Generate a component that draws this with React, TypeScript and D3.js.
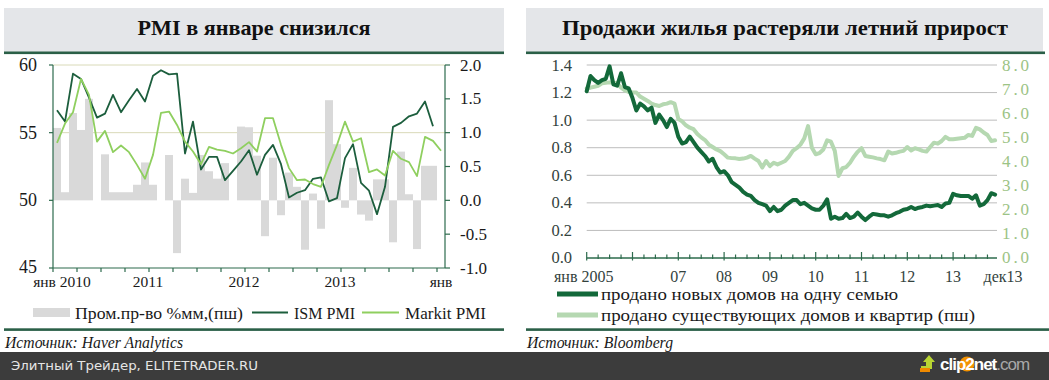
import React from 'react';
import * as d3 from 'd3';

// ---------- Left chart: PMI (Jan 2010 – Jan 2014, monthly) ----------
const pmiTickLabels = ['янв 2010', '2011', '2012', '2013', 'янв'];
const pmiTickMonths = [0, 12, 24, 36, 48];
const pmiLeftTicks = [45, 50, 55, 60];
const pmiRightTicks = [-1, -0.5, 0, 0.5, 1, 1.5, 2];
const pmiGrid = [55, 60];

const indProd = [
  1.07, 0.12, 1.29, 1.04, 1.5, 0, 0.68, 0.12, 0.12, 0.12, 0.23, 0.56,
  0.23, 0, 0.67, -0.78, 0.32, 0.11, 0.67, 0.43, 0.32, 0.55, 0, 1.09,
  1.08, 0.66, -0.53, 0.63, -0.22, 0.41, 0.2, -0.73, 0.1, -0.42, 1.48, 0.83,
  -0.11, 0.48, -0.21, -0.3, 0.31, 0.31, -0.62, 0.72, 0.09, -0.72, 0.51, 0.51,
];
const ismPmi = [
  56.66, 55.82, 59.36, 58.97, 57.59, 56.11, 56.41, 57.79, 56.51, 57.39, 58.23, 57.3,
  59.21, 59.61, 59.31, 59.36, 53.46, 55.82, 52.28, 53.21, 53.21, 51.49, 52.18, 52.87,
  53.7, 51.89, 53.36, 54.1, 52.67, 50.21, 50.56, 50.75, 51.59, 51.69, 49.92, 50.16,
  53.12, 54.15, 51.29, 50.71, 48.98, 51.0, 55.43, 55.72, 56.21, 56.41, 57.3, 55.48,
];
const markitPmi = [
  54.25, 55.67, 56.51, 58.97, 57.79, 54.34, 55.13, 53.56, 54.05, 53.56, 52.62, 51.59,
  53.36, 56.46, 56.56, 55.57, 54.34, 53.61, 52.67, 53.95, 53.75, 53.66, 53.46, 53.85,
  54.3, 53.61, 56.07, 56.07, 54.1, 52.38, 51.49, 51.54, 51.2, 51.0, 52.62, 54.1,
  55.82, 54.34, 54.59, 52.08, 52.28, 51.84, 53.66, 53.07, 52.82, 51.79, 54.69, 54.39,
  53.66,
];

// ---------- Right chart: home sales (Jan 2005 – Dec 2013, monthly) ----------
const homeTickLabels = ['янв 2005', '07', '08', '09', '10', '11', '12', '13', 'дек13'];
const homeTickMonths = [0, 24, 36, 48, 60, 72, 84, 96, 107];
const homeLeftTicks = [0, 0.2, 0.4, 0.6, 0.8, 1.0, 1.2, 1.4];
const homeRightTicks = [0, 1, 2, 3, 4, 5, 6, 7, 8];

const newHomeSales = [
  1.21, 1.32, 1.29, 1.27, 1.29, 1.3, 1.39, 1.26, 1.25, 1.34, 1.24, 1.23,
  1.16, 1.07, 1.12, 1.1, 1.07, 1.09, 0.98, 1.04, 1.0, 0.95, 1.01, 0.98,
  0.88, 0.83, 0.84, 0.88, 0.84, 0.8, 0.77, 0.74, 0.7, 0.72, 0.66, 0.62,
  0.63, 0.6, 0.55, 0.53, 0.51, 0.48, 0.46, 0.45, 0.42, 0.4, 0.39, 0.38,
  0.34, 0.37, 0.34, 0.35, 0.38, 0.4, 0.42, 0.42, 0.39, 0.4, 0.38, 0.36,
  0.35, 0.35, 0.38, 0.425, 0.285, 0.3, 0.285, 0.29, 0.32, 0.29, 0.3, 0.33,
  0.3, 0.275, 0.3, 0.32, 0.315, 0.31, 0.31, 0.3, 0.31, 0.325, 0.335, 0.35,
  0.355, 0.37, 0.355, 0.365, 0.37, 0.38, 0.375, 0.38, 0.385, 0.37, 0.395, 0.4,
  0.465, 0.455, 0.45, 0.45, 0.45, 0.43, 0.455, 0.38, 0.39, 0.42, 0.47, 0.46,
];
const existingHomeSales = [
  7.03, 7.06, 7.1, 7.14, 7.24, 7.26, 7.28, 7.26, 7.24, 7.06, 6.95, 6.89,
  6.86, 6.86, 6.69, 6.6, 6.51, 6.4, 6.34, 6.3, 6.37, 6.4, 6.46, 6.4,
  5.77, 5.66, 5.5, 5.4, 5.34, 5.14, 5.0, 4.89, 4.7, 4.6, 4.5, 4.43,
  4.3, 4.16, 4.14, 4.13, 4.1, 4.12, 4.16, 4.23, 4.12, 4.02, 3.75, 4.02,
  3.81, 3.95, 3.88, 3.95, 4.02, 4.2, 4.44, 4.55, 4.7, 4.96, 5.47, 4.57,
  4.3, 4.35, 4.5, 4.88, 4.82, 4.44, 3.4, 3.72, 3.77, 3.95, 4.2, 4.4,
  4.55, 4.23, 4.2, 4.17, 4.13, 4.1, 4.05, 4.41, 4.33, 4.36, 4.41, 4.44,
  4.6, 4.46, 4.55, 4.5, 4.44, 4.41, 4.6, 4.78, 4.74, 4.85, 5.02, 4.92,
  4.92, 4.94, 4.96, 4.98, 5.1, 5.06, 5.4, 5.33, 5.2, 5.1, 4.85, 4.88,
];

const SERIF = "'Liberation Serif', 'Times New Roman', serif";
const SANS = "'DejaVu Sans', sans-serif";

const C = {
  titleBg: '#e4e6e9',
  rule: '#2a5f47',
  axis: '#2d6b4d',
  bar: '#d9d9d9',
  ism: '#1c5e3d',
  markit: '#8fcf5f',
  pmiGrid: '#d9dab8',
  homeGrid: '#bdbdbd',
  newHome: '#13693a',
  existing: '#b5d8b1',
  rightLbl: '#9cc385',
  text: '#1a1a1a',
  homeLbl: '#33423d',
};

export default function App() {
  // ----- left chart scales -----
  const xL = d3.scaleBand<number>().domain(d3.range(49)).range([53, 445]).padding(0);
  const bw = xL.bandwidth();
  const yL = d3.scaleLinear().domain([45, 60]).range([268, 65]);
  const yR = d3.scaleLinear().domain([-1, 2]).range([268, 65]);
  const pmiLine = d3
    .line<number>()
    .x((_, i) => (xL(i) as number) + bw / 2)
    .y((d) => yL(d));
  const pmiTicks = d3.range(0, 49, 3);

  // ----- right chart scales -----
  const xH = d3.scaleLinear().domain([0, 107.5]).range([586.7, 997]);
  const yHL = d3.scaleLinear().domain([0, 1.4]).range([258, 65]);
  const yHR = d3.scaleLinear().domain([0, 8]).range([258, 65]);
  const newLine = d3
    .line<number>()
    .x((_, i) => xH(i))
    .y((d) => yHL(d));
  const exLine = d3
    .line<number>()
    .x((_, i) => xH(i))
    .y((d) => yHR(d));
  const homeTicks = d3.range(0, 106, 3);

  return (
    <svg
      width={1049}
      height={380}
      viewBox="0 0 1049 380"
      style={{ position: 'absolute', left: 0, top: 0, background: '#fff' }}
    >
      <rect x={0} y={0} width={1049} height={380} fill="#fff" />

      {/* ================= LEFT PANEL ================= */}
      <rect x={4} y={8} width={500} height={44} fill={C.titleBg} />
      <text x={254} y={35} textAnchor="middle" fontFamily={SERIF} fontWeight="bold" fontSize={22}
        fill="#111" textLength={233} lengthAdjust="spacingAndGlyphs">
        PMI в январе снизился
      </text>
      <rect x={4} y={51.5} width={500} height={2.6} fill={C.rule} />

      {pmiGrid.map((v) => (
        <line key={'pg' + v} x1={53} x2={445} y1={yL(v)} y2={yL(v)} stroke={C.pmiGrid} strokeWidth={1} />
      ))}

      {indProd.map((v, i) => (
        <rect key={'b' + i} x={xL(i)} y={yR(Math.max(0, v))} width={bw}
          height={Math.abs(yR(v) - yR(0))} fill={C.bar} />
      ))}

      <path d={pmiLine(ismPmi) || ''} fill="none" stroke={C.ism} strokeWidth={1.8} strokeLinejoin="round" />
      <path d={pmiLine(markitPmi) || ''} fill="none" stroke={C.markit} strokeWidth={1.8} strokeLinejoin="round" />

      {/* axes */}
      <line x1={53} x2={53} y1={65} y2={268} stroke={C.axis} strokeWidth={1.2} />
      <line x1={445} x2={445} y1={65} y2={268} stroke={C.axis} strokeWidth={1.2} />
      <line x1={53} x2={445} y1={268} y2={268} stroke={C.axis} strokeWidth={1.2} />
      {pmiLeftTicks.map((v) => (
        <g key={'lt' + v}>
          <line x1={49} x2={53} y1={yL(v)} y2={yL(v)} stroke={C.axis} strokeWidth={1.2} />
          <text x={37} y={yL(v) + (v === 45 ? 5 : 6)} textAnchor="end" fontFamily={SERIF} fontSize={18} fill={C.text}>
            {v}
          </text>
        </g>
      ))}
      {pmiRightTicks.map((v) => (
        <g key={'rt' + v}>
          <line x1={445} x2={450} y1={yR(v)} y2={yR(v)} stroke={C.axis} strokeWidth={1.2} />
          <text x={460} y={yR(v) + 5.5} textAnchor="start" fontFamily={SERIF} fontSize={17} fill={C.text}>
            {v.toFixed(1)}
          </text>
        </g>
      ))}
      {pmiTicks.map((m) => (
        <line key={'xt' + m} x1={xL(m)} x2={xL(m)} y1={268} y2={272} stroke={C.axis} strokeWidth={1.2} />
      ))}
      {pmiTickLabels.map((lab, k) => (
        <text key={'xl' + k} x={(xL(pmiTickMonths[k]) as number) + (k === 0 ? 9 : k === 4 ? 4 : -1)} y={287}
          textAnchor="middle" fontFamily={SERIF} fontSize={15.5} fill={C.text}>
          {lab}
        </text>
      ))}

      {/* legend */}
      <rect x={33} y={308} width={37} height={9} fill={C.bar} />
      <text x={75} y={319} fontFamily={SERIF} fontSize={17} fill={C.text} textLength={168} lengthAdjust="spacingAndGlyphs">
        Пром.пр-во %мм,(пш)
      </text>
      <line x1={252} x2={288} y1={312.5} y2={312.5} stroke={C.ism} strokeWidth={2} />
      <text x={294} y={319} fontFamily={SERIF} fontSize={17} fill={C.text} textLength={61} lengthAdjust="spacingAndGlyphs">
        ISM PMI
      </text>
      <line x1={362} x2={399} y1={312.5} y2={312.5} stroke={C.markit} strokeWidth={2} />
      <text x={405} y={319} fontFamily={SERIF} fontSize={17} fill={C.text} textLength={81} lengthAdjust="spacingAndGlyphs">
        Markit PMI
      </text>

      <rect x={4} y={328.3} width={500} height={2.6} fill={C.rule} />
      <text x={5} y={347.5} fontFamily={SERIF} fontStyle="italic" fontSize={16} fill={C.text}
        textLength={178} lengthAdjust="spacingAndGlyphs">
        Источник: Haver Analytics
      </text>

      {/* ================= RIGHT PANEL ================= */}
      <rect x={526} y={8} width={517} height={44} fill={C.titleBg} />
      <text x={785} y={35} textAnchor="middle" fontFamily={SERIF} fontWeight="bold" fontSize={22}
        fill="#111" textLength={446} lengthAdjust="spacingAndGlyphs">
        Продажи жилья растеряли летний прирост
      </text>
      <rect x={526} y={51.5} width={519} height={2.6} fill={C.rule} />

      {homeLeftTicks.filter((v) => v > 0).map((v) => (
        <line key={'hg' + v} x1={586.7} x2={997} y1={yHL(v)} y2={yHL(v)} stroke={C.homeGrid} strokeWidth={1} />
      ))}

      <path d={exLine(existingHomeSales) || ''} fill="none" stroke={C.existing} strokeWidth={4}
        strokeLinejoin="round" strokeLinecap="round" />
      <path d={newLine(newHomeSales) || ''} fill="none" stroke={C.newHome} strokeWidth={4}
        strokeLinejoin="round" strokeLinecap="round" />

      <line x1={586.7} x2={997} y1={258} y2={258} stroke={C.axis} strokeWidth={1.3} />
      {homeTicks.map((m) => (
        <line key={'ht' + m} x1={xH(m)} x2={xH(m)} y1={m % 12 === 0 ? 252 : 254.5} y2={m % 12 === 0 ? 260.5 : 259}
          stroke={C.axis} strokeWidth={1.2} />
      ))}
      {homeLeftTicks.map((v) => (
        <text key={'hl' + v} x={572} y={yHL(v) + (v === 0 ? 4.5 : 5.5)} textAnchor="end" fontFamily={SERIF} fontSize={16.5} fill={C.homeLbl}>
          {v.toFixed(1)}
        </text>
      ))}
      {homeRightTicks.map((v) => (
        <text key={'hr' + v} x={1002} y={yHR(v) + (v === 0 ? 4.5 : 5.5)} textAnchor="start" fontFamily={SERIF} fontSize={17}
          fill={C.rightLbl} textLength={27} lengthAdjust="spacing">
          {v.toFixed(1)}
        </text>
      ))}
      {homeTickLabels.map((lab, k) => (
        <text key={'hx' + k} x={xH(homeTickMonths[k]) + (k === 0 ? -3 : k === 8 ? 8 : 0)} y={282}
          textAnchor="middle" fontFamily={SERIF} fontSize={16} fill={C.homeLbl}>
          {lab}
        </text>
      ))}

      {/* legend */}
      <line x1={557} x2={598} y1={294} y2={294} stroke={C.newHome} strokeWidth={5} />
      <text x={601} y={300} fontFamily={SERIF} fontSize={17} fill={C.text} textLength={297} lengthAdjust="spacingAndGlyphs">
        продано новых домов на одну семью
      </text>
      <line x1={557} x2={598} y1={315} y2={315} stroke={C.existing} strokeWidth={5} />
      <text x={601} y={321} fontFamily={SERIF} fontSize={17} fill={C.text} textLength={374} lengthAdjust="spacingAndGlyphs">
        продано существующих домов и квартир (пш)
      </text>
      <rect x={526} y={328.3} width={523} height={2.6} fill={C.rule} />
      <text x={527} y={347.5} fontFamily={SERIF} fontStyle="italic" fontSize={16} fill={C.text}
        textLength={146} lengthAdjust="spacingAndGlyphs">
        Источник: Bloomberg
      </text>

      {/* ================= FOOTER ================= */}
      <rect x={0} y={352} width={1049} height={28} fill="#3c3c3c" />
      <text x={11} y={370} fontFamily={SANS} fontSize={13} fill="#e6e6e6" textLength={247} lengthAdjust="spacingAndGlyphs">
        Элитный Трейдер, ELITETRADER.RU
      </text>
      {/* clip2net logo */}
      <polygon points="921,372 921,366 926,366 926,362 923,362 929,355 935,362 932,362 932,369 926,369 926,372"
        fill="#b9d532" />
      <rect x={920} y={368} width={10} height={4} fill="#f08a00" />
      <circle cx={967} cy={364} r={7.5} fill="#f39200" />
      <text x={940} y={370} fontFamily="'Liberation Sans', Arial, sans-serif" fontWeight="bold" fontSize={17}
        letterSpacing={-1} fill="#ffffff">
        clip<tspan fill="#ffffff">2</tspan>net<tspan fill="#a8a8a8" fontWeight="normal">.com</tspan>
      </text>
    </svg>
  );
}
